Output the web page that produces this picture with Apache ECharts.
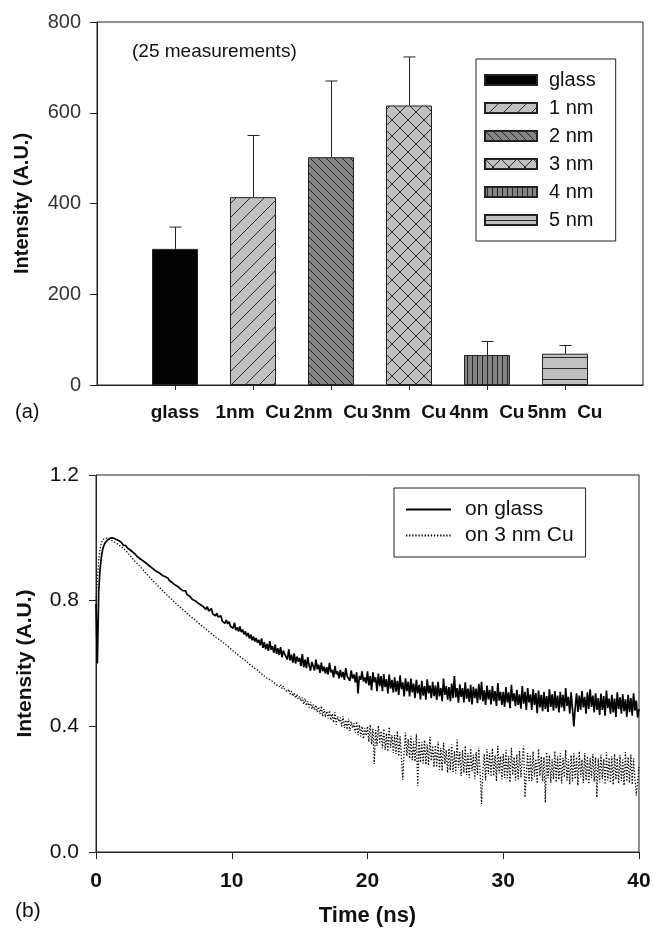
<!DOCTYPE html>
<html>
<head>
<meta charset="utf-8">
<script src="https://cdn.jsdelivr.net/npm/echarts@6/dist/echarts.min.js"></script>
<style>html,body{margin:0;padding:0;background:#fff;}#chart{width:654px;height:928px;}</style>
</head>
<body>
<div id="chart"></div>
<script>
// ---------- Panel (a) data ----------
const barCategories = ['glass', '1nm  Cu', '2nm  Cu', '3nm  Cu', '4nm  Cu', '5nm  Cu'];
const legendNames = ['glass', '1 nm', '2 nm', '3 nm', '4 nm', '5 nm'];
const barValues = [300, 414, 502, 616, 66, 69];
const errorPlus = [48, 136, 168, 107, 30, 18];
const yTicksA = [0, 200, 400, 600, 800];

// ---------- Panel (b) data ----------
const timeNs = [
0,0.1,0.2,0.3,0.4,0.5,0.6,0.7,0.8,0.9,1,1.1,1.2,1.3,1.4,1.5,1.6,1.7,1.8,1.9,
2,2.1,2.2,2.3,2.4,2.5,2.6,2.7,2.8,2.9,3,3.1,3.2,3.3,3.4,3.5,3.6,3.7,3.8,3.9,
4,4.1,4.2,4.3,4.4,4.5,4.6,4.7,4.8,4.9,5,5.1,5.2,5.3,5.4,5.5,5.6,5.7,5.8,5.9,
6,6.1,6.2,6.3,6.4,6.5,6.6,6.7,6.8,6.9,7,7.1,7.2,7.3,7.4,7.5,7.6,7.7,7.8,7.9,
8,8.1,8.2,8.3,8.4,8.5,8.6,8.7,8.8,8.9,9,9.1,9.2,9.3,9.4,9.5,9.6,9.7,9.8,9.9,
10,10.1,10.2,10.3,10.4,10.5,10.6,10.7,10.8,10.9,11,11.1,11.2,11.3,11.4,11.5,11.6,11.7,11.8,11.9,
12,12.1,12.2,12.3,12.4,12.5,12.6,12.7,12.8,12.9,13,13.1,13.2,13.3,13.4,13.5,13.6,13.7,13.8,13.9,
14,14.1,14.2,14.3,14.4,14.5,14.6,14.7,14.8,14.9,15,15.1,15.2,15.3,15.4,15.5,15.6,15.7,15.8,15.9,
16,16.1,16.2,16.3,16.4,16.5,16.6,16.7,16.8,16.9,17,17.1,17.2,17.3,17.4,17.5,17.6,17.7,17.8,17.9,
18,18.1,18.2,18.3,18.4,18.5,18.6,18.7,18.8,18.9,19,19.1,19.2,19.3,19.4,19.5,19.6,19.7,19.8,19.9,
20,20.1,20.2,20.3,20.4,20.5,20.6,20.7,20.8,20.9,21,21.1,21.2,21.3,21.4,21.5,21.6,21.7,21.8,21.9,
22,22.1,22.2,22.3,22.4,22.5,22.6,22.7,22.8,22.9,23,23.1,23.2,23.3,23.4,23.5,23.6,23.7,23.8,23.9,
24,24.1,24.2,24.3,24.4,24.5,24.6,24.7,24.8,24.9,25,25.1,25.2,25.3,25.4,25.5,25.6,25.7,25.8,25.9,
26,26.1,26.2,26.3,26.4,26.5,26.6,26.7,26.8,26.9,27,27.1,27.2,27.3,27.4,27.5,27.6,27.7,27.8,27.9,
28,28.1,28.2,28.3,28.4,28.5,28.6,28.7,28.8,28.9,29,29.1,29.2,29.3,29.4,29.5,29.6,29.7,29.8,29.9,
30,30.1,30.2,30.3,30.4,30.5,30.6,30.7,30.8,30.9,31,31.1,31.2,31.3,31.4,31.5,31.6,31.7,31.8,31.9,
32,32.1,32.2,32.3,32.4,32.5,32.6,32.7,32.8,32.9,33,33.1,33.2,33.3,33.4,33.5,33.6,33.7,33.8,33.9,
34,34.1,34.2,34.3,34.4,34.5,34.6,34.7,34.8,34.9,35,35.1,35.2,35.3,35.4,35.5,35.6,35.7,35.8,35.9,
36,36.1,36.2,36.3,36.4,36.5,36.6,36.7,36.8,36.9,37,37.1,37.2,37.3,37.4,37.5,37.6,37.7,37.8,37.9,
38,38.1,38.2,38.3,38.4,38.5,38.6,38.7,38.8,38.9,39,39.1,39.2,39.3,39.4,39.5,39.6,39.7,39.8,39.9,
40
];
const onGlass = [
0.79,0.60,0.83,0.90,0.94,0.965,0.978,0.986,0.992,0.995,
0.997,1.000,0.996,0.999,0.994,0.995,0.990,0.991,0.986,0.984,
0.977,0.972,0.975,0.968,0.966,0.962,0.960,0.955,0.953,0.947,
0.944,0.938,0.940,0.932,0.929,0.926,0.927,0.919,0.918,0.912,
0.913,0.905,0.906,0.898,0.901,0.892,0.890,0.887,0.889,0.880,
0.882,0.876,0.871,0.872,0.864,0.866,0.858,0.860,0.851,0.850,
0.846,0.849,0.838,0.840,0.832,0.829,0.831,0.820,0.822,0.814,
0.815,0.804,0.810,0.800,0.803,0.793,0.797,0.787,0.792,0.781,
0.784,0.772,0.781,0.767,0.770,0.775,0.758,0.764,0.752,0.760,
0.748,0.744,0.752,0.735,0.741,0.728,0.738,0.726,0.733,0.719,
0.724,0.712,0.730,0.706,0.715,0.702,0.718,0.700,0.708,0.693,
0.702,0.687,0.697,0.680,0.692,0.674,0.686,0.670,0.681,0.666,
0.675,0.658,0.680,0.650,0.668,0.645,0.662,0.640,0.671,0.644,
0.655,0.634,0.660,0.631,0.649,0.627,0.652,0.620,0.641,0.630,
0.636,0.612,0.645,0.610,0.628,0.603,0.632,0.600,0.622,0.606,
0.618,0.592,0.630,0.588,0.612,0.585,0.620,0.594,0.577,0.605,
0.600,0.578,0.612,0.582,0.596,0.570,0.603,0.575,0.590,0.568,
0.588,0.565,0.602,0.572,0.580,0.556,0.592,0.566,0.575,0.553,
0.580,0.556,0.573,0.548,0.585,0.560,0.566,0.545,0.578,0.552,
0.565,0.540,0.572,0.505,0.560,0.548,0.575,0.542,0.556,0.537,
0.575,0.530,0.560,0.515,0.572,0.540,0.556,0.512,0.568,0.528,
0.560,0.512,0.566,0.525,0.550,0.505,0.565,0.520,0.548,0.508,
0.556,0.510,0.545,0.500,0.562,0.518,0.540,0.495,0.553,0.512,
0.542,0.495,0.552,0.508,0.536,0.490,0.548,0.505,0.532,0.486,
0.545,0.498,0.528,0.485,0.550,0.505,0.530,0.490,0.542,0.496,
0.530,0.484,0.542,0.495,0.522,0.480,0.552,0.500,0.528,0.485,
0.525,0.480,0.536,0.490,0.560,0.492,0.522,0.475,0.534,0.494,
0.522,0.476,0.540,0.488,0.520,0.478,0.532,0.470,0.526,0.490,
0.520,0.474,0.535,0.485,0.542,0.480,0.515,0.468,0.530,0.486,
0.516,0.470,0.528,0.480,0.512,0.465,0.538,0.482,0.510,0.468,
0.510,0.462,0.525,0.476,0.508,0.458,0.532,0.480,0.505,0.464,
0.516,0.468,0.502,0.456,0.528,0.472,0.510,0.452,0.522,0.476,
0.502,0.452,0.518,0.468,0.506,0.442,0.514,0.460,0.500,0.448,
0.510,0.455,0.496,0.446,0.518,0.462,0.502,0.450,0.512,0.458,
0.498,0.444,0.510,0.460,0.500,0.448,0.522,0.465,0.494,0.440,
0.508,0.455,0.400,0.460,0.505,0.446,0.498,0.452,0.512,0.460,
0.494,0.440,0.508,0.455,0.518,0.462,0.498,0.444,0.505,0.452,
0.490,0.436,0.504,0.452,0.496,0.434,0.514,0.458,0.488,0.440,
0.500,0.444,0.488,0.430,0.508,0.455,0.492,0.440,0.503,0.448,
0.486,0.430,0.500,0.445,0.490,0.434,0.505,0.450,0.482,0.428,
0.455
];
const on3nmCu = [
0.80,0.87,0.93,0.965,0.985,0.994,0.998,1.000,0.999,0.997,
0.995,0.993,0.990,0.988,0.986,0.983,0.980,0.977,0.974,0.971,
0.968,0.963,0.959,0.954,0.948,0.944,0.939,0.934,0.929,0.924,
0.920,0.915,0.911,0.906,0.900,0.896,0.891,0.886,0.881,0.877,
0.872,0.868,0.863,0.859,0.854,0.850,0.845,0.841,0.837,0.832,
0.828,0.824,0.820,0.815,0.812,0.807,0.803,0.799,0.795,0.791,
0.787,0.783,0.780,0.775,0.772,0.768,0.764,0.760,0.756,0.752,
0.748,0.745,0.741,0.738,0.734,0.730,0.727,0.723,0.719,0.716,
0.712,0.709,0.706,0.702,0.700,0.695,0.693,0.688,0.686,0.681,
0.678,0.676,0.671,0.669,0.664,0.662,0.657,0.655,0.650,0.648,
0.645,0.640,0.639,0.633,0.632,0.626,0.625,0.619,0.618,0.613,
0.612,0.606,0.606,0.598,0.600,0.591,0.592,0.584,0.586,0.579,
0.578,0.570,0.575,0.563,0.568,0.556,0.562,0.550,0.556,0.546,
0.548,0.540,0.546,0.532,0.538,0.526,0.533,0.520,0.528,0.517,
0.522,0.510,0.518,0.503,0.512,0.496,0.506,0.490,0.502,0.487,
0.495,0.480,0.492,0.470,0.488,0.466,0.480,0.460,0.478,0.455,
0.470,0.452,0.468,0.445,0.462,0.440,0.465,0.432,0.455,0.430,
0.448,0.425,0.450,0.420,0.440,0.412,0.445,0.405,0.432,0.415,
0.428,0.400,0.432,0.395,0.420,0.390,0.425,0.385,0.415,0.395,
0.410,0.380,0.415,0.372,0.405,0.368,0.400,0.360,0.395,0.370,
0.400,0.350,0.405,0.342,0.392,0.280,0.388,0.338,0.402,0.345,
0.385,0.330,0.392,0.325,0.378,0.320,0.398,0.332,0.372,0.315,
0.372,0.312,0.385,0.305,0.368,0.300,0.230,0.318,0.380,0.305,
0.360,0.298,0.370,0.292,0.352,0.288,0.375,0.210,0.358,0.285,
0.350,0.282,0.356,0.278,0.342,0.275,0.366,0.290,0.338,0.270,
0.340,0.270,0.352,0.262,0.332,0.258,0.348,0.280,0.325,0.252,
0.330,0.260,0.342,0.255,0.322,0.250,0.358,0.268,0.318,0.242,
0.325,0.252,0.338,0.245,0.315,0.236,0.330,0.258,0.310,0.232,
0.318,0.245,0.332,0.250,0.153,0.262,0.312,0.228,0.328,0.248,
0.315,0.240,0.330,0.242,0.308,0.225,0.338,0.250,0.305,0.232,
0.312,0.236,0.325,0.235,0.305,0.222,0.332,0.245,0.302,0.228,
0.310,0.232,0.322,0.238,0.300,0.338,0.174,0.250,0.315,0.226,
0.306,0.226,0.320,0.240,0.296,0.218,0.328,0.242,0.304,0.224,
0.302,0.158,0.318,0.235,0.308,0.220,0.295,0.232,0.322,0.222,
0.304,0.230,0.315,0.218,0.300,0.238,0.325,0.228,0.296,0.215,
0.308,0.225,0.314,0.232,0.302,0.212,0.320,0.238,0.294,0.220,
0.315,0.228,0.305,0.216,0.298,0.236,0.312,0.224,0.302,0.174,
0.298,0.222,0.310,0.232,0.296,0.215,0.318,0.228,0.300,0.220,
0.305,0.214,0.312,0.230,0.298,0.218,0.308,0.226,0.294,0.212,
0.318,0.225,0.302,0.220,0.310,0.215,0.298,0.232,0.180,0.224,
0.270
];
const yTicksB = [0, 0.4, 0.8, 1.2];
const xTicksB = [0, 10, 20, 30, 40];

// ---------- styling helpers ----------
const FONT = "'Liberation Sans', Arial, sans-serif";
const INK = '#111';

function tile(w, h, bg, draw) {
  const c = document.createElement('canvas');
  c.width = w; c.height = h;
  const ctx = c.getContext('2d');
  ctx.fillStyle = bg; ctx.fillRect(0, 0, w, h);
  ctx.strokeStyle = '#1a1a1a'; ctx.lineWidth = 0.9;
  ctx.beginPath(); draw(ctx, w, h); ctx.stroke();
  return { image: c, repeat: 'repeat' };
}
function slash(ctx, w, h) { ctx.moveTo(-1, h + 1); ctx.lineTo(w + 1, -1); ctx.moveTo(-2, 1); ctx.lineTo(1, -2); ctx.moveTo(w - 1, h + 2); ctx.lineTo(w + 2, h - 1); }
function backslash(ctx, w, h) { ctx.moveTo(-1, -1); ctx.lineTo(w + 1, h + 1); ctx.moveTo(-2, h - 1); ctx.lineTo(1, h + 2); ctx.moveTo(w - 1, -2); ctx.lineTo(w + 2, 1); }
const fills = [
  '#000000',
  tile(14, 14, '#c0c0c0', slash),
  tile(8, 8, '#858585', backslash),
  tile(16, 16, '#c0c0c0', (ctx, w, h) => { slash(ctx, w, h); backslash(ctx, w, h); }),
  tile(5, 5, '#858585', (ctx, w, h) => { ctx.moveTo(2.5, 0); ctx.lineTo(2.5, h); }),
  tile(11, 11, '#c0c0c0', (ctx, w, h) => { ctx.moveTo(0, 5.5); ctx.lineTo(w, 5.5); })
];

const axisCats = [''].concat(barCategories, ['']);

const barSeries = legendNames.map((name, i) => ({
  name: name,
  type: 'bar',
  xAxisIndex: 0, yAxisIndex: 0,
  barWidth: 46,
  barGap: '-100%',
  data: axisCats.map((c, k) => (k === i + 1 ? barValues[i] : '-')),
  itemStyle: { color: fills[i], borderColor: '#222', borderWidth: 1 },
  z: 2
}));

const errSeries = {
  name: 'err',
  type: 'custom',
  xAxisIndex: 0, yAxisIndex: 0,
  data: barValues.map((v, i) => [i + 1, v, v + errorPlus[i]]),
  encode: { x: 0, y: [1, 2] },
  renderItem: function (params, api) {
    const p0 = api.coord([api.value(0), api.value(1)]);
    const p1 = api.coord([api.value(0), api.value(2)]);
    const x = Math.round(p0[0]) + 0.5;
    return {
      type: 'group',
      children: [
        { type: 'line', shape: { x1: x, y1: p0[1], x2: x, y2: p1[1] }, style: { stroke: '#222', lineWidth: 1 } },
        { type: 'line', shape: { x1: x - 6, y1: p1[1], x2: x + 6, y2: p1[1] }, style: { stroke: '#222', lineWidth: 1 } }
      ]
    };
  },
  z: 3
};

const option = {
  animation: false,
  backgroundColor: '#fff',
  textStyle: { fontFamily: FONT },
  grid: [
    { left: 97, top: 22, right: 11, bottom: 543, show: true, borderColor: '#222', borderWidth: 1, backgroundColor: 'transparent' },
    { left: 96, top: 475, right: 15, bottom: 73, show: true, borderColor: '#222', borderWidth: 1, backgroundColor: 'transparent' }
  ],
  legend: [
    {
      data: legendNames,
      orient: 'vertical', left: 476, top: 59,
      icon: 'rect', itemWidth: 52, itemHeight: 10, itemGap: 8,
      padding: [11, 20, 11, 8],
      borderColor: '#222', borderWidth: 1, backgroundColor: '#fff',
      textStyle: { fontSize: 20, fontFamily: FONT, color: INK, padding: [0, 0, 0, 7] },
      selectedMode: false
    },
    {
      data: ['on glass', 'on 3 nm Cu'],
      orient: 'vertical', left: 394, top: 488,
      itemWidth: 45, itemHeight: 14, itemGap: 5,
      padding: [11, 12, 11, 11],
      borderColor: '#222', borderWidth: 1, backgroundColor: '#fff',
      itemStyle: { opacity: 0 },
      textStyle: { fontSize: 21, fontFamily: FONT, color: INK, padding: [0, 0, 0, 9] },
      selectedMode: false
    }
  ],
  xAxis: [
    {
      gridIndex: 0, type: 'category', data: axisCats, boundaryGap: false,
      axisLine: { lineStyle: { color: '#222', width: 1 } },
      axisTick: { length: 5, lineStyle: { color: '#222' }, interval: function (i) { return i > 0 && i < axisCats.length - 1; } },
      axisLabel: { interval: 0, margin: 18, fontSize: 19, fontWeight: 'bold', color: INK, fontFamily: FONT },
      splitLine: { show: false }
    },
    {
      gridIndex: 1, type: 'value', min: xTicksB[0], max: xTicksB[xTicksB.length - 1], interval: 10,
      name: 'Time (ns)', nameLocation: 'middle', nameGap: 53,
      nameTextStyle: { fontSize: 22, fontWeight: 'bold', color: INK, fontFamily: FONT },
      axisLine: { lineStyle: { color: '#222', width: 1 } },
      axisTick: { length: 7, lineStyle: { color: '#222' } },
      axisLabel: { margin: 19, fontSize: 21, fontWeight: 'bold', color: INK, fontFamily: FONT },
      splitLine: { show: false }
    }
  ],
  yAxis: [
    {
      gridIndex: 0, type: 'value', min: yTicksA[0], max: yTicksA[yTicksA.length - 1], interval: 200,
      name: 'Intensity (A.U.)', nameLocation: 'middle', nameGap: 65,
      nameTextStyle: { fontSize: 20, fontWeight: 'bold', color: INK, fontFamily: FONT },
      axisLine: { show: true, lineStyle: { color: '#222', width: 1 } },
      axisTick: { show: true, length: 7, lineStyle: { color: '#222' } },
      axisLabel: { margin: 16, fontSize: 20, color: '#333', fontFamily: FONT },
      splitLine: { show: false }
    },
    {
      gridIndex: 1, type: 'value', min: yTicksB[0], max: yTicksB[yTicksB.length - 1], interval: 0.4,
      name: 'Intensity (A.U.)', nameLocation: 'middle', nameGap: 60,
      nameTextStyle: { fontSize: 21, fontWeight: 'bold', color: INK, fontFamily: FONT },
      axisLine: { show: true, lineStyle: { color: '#222', width: 1 } },
      axisTick: { show: true, length: 7, lineStyle: { color: '#222' } },
      axisLabel: { margin: 17, fontSize: 21, color: INK, fontFamily: FONT, formatter: v => v.toFixed(1) },
      splitLine: { show: false }
    }
  ],
  graphic: [
    { type: 'text', left: 132, top: 42, style: { text: '(25 measurements)', font: "19px " + FONT, fill: INK } },
    { type: 'text', left: 15, top: 402, style: { text: '(a)', font: "20px " + FONT, fill: INK } },
    { type: 'text', left: 15, top: 901, style: { text: '(b)', font: "21px " + FONT, fill: INK } }
  ],
  series: barSeries.concat([
    errSeries,
    {
      name: 'on glass', type: 'line', xAxisIndex: 1, yAxisIndex: 1,
      data: timeNs.map((t, i) => [t, onGlass[i]]),
      symbol: 'none', showSymbol: false,
      lineStyle: { color: '#000', width: 1.7 },
      itemStyle: { color: '#000' }, z: 3
    },
    {
      name: 'on 3 nm Cu', type: 'line', xAxisIndex: 1, yAxisIndex: 1,
      data: timeNs.map((t, i) => [t, on3nmCu[i]]),
      symbol: 'none', showSymbol: false,
      lineStyle: { color: '#000', width: 1.3, type: [1.3, 1.8] },
      itemStyle: { color: '#000' }, z: 2
    }
  ])
};

const chart = echarts.init(document.getElementById('chart'), null, { renderer: 'canvas' });
chart.setOption(option);
</script>
</body>
</html>
